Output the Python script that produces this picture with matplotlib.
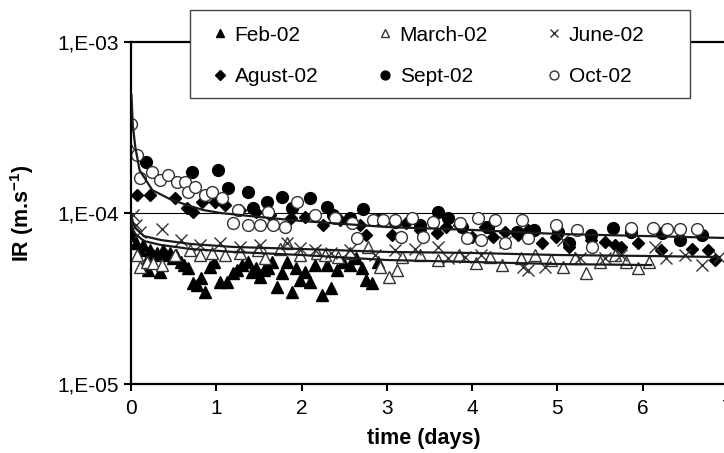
import numpy as np
import matplotlib
matplotlib.use('Agg')
import matplotlib.pyplot as plt
from matplotlib.patches import Rectangle
from matplotlib.ticker import FixedLocator, NullLocator

plt.rcParams['font.family'] = ['Liberation Sans', 'DejaVu Sans']
plt.rcParams['mathtext.default'] = 'regular'

# values, IR in units of 1e-5 m/s
feb_t = [0.01, 0.06, 0.11, 0.14, 0.18, 0.20, 0.22, 0.26, 0.31, 0.34, 0.38, 0.41, 0.46, 0.49,
         0.53, 0.58, 0.62, 0.67, 0.73, 0.77, 0.82, 0.87, 0.93, 0.97, 1.04, 1.13, 1.19, 1.24,
         1.30, 1.37, 1.42, 1.47, 1.51, 1.56, 1.61, 1.65, 1.71, 1.77, 1.83, 1.89, 1.94, 1.98,
         2.04, 2.10, 2.16, 2.24, 2.30, 2.34, 2.42, 2.49, 2.57, 2.64, 2.71, 2.76, 2.83, 2.90]
feb_ir = [7.43, 6.68, 6.08, 6.50, 5.17, 4.64, 6.08, 5.68, 5.84, 4.52, 6.08, 5.68, 5.84, 5.46,
          5.68, 5.17, 4.96, 4.77, 3.90, 3.79, 4.17, 3.45, 4.83, 5.17, 3.95, 3.95, 4.46, 4.64,
          4.96, 5.17, 4.52, 4.77, 4.22, 4.64, 4.77, 5.17, 3.69, 4.46, 5.17, 3.45, 4.77, 4.06,
          4.52, 3.95, 4.96, 3.31, 4.96, 3.64, 4.64, 5.17, 4.96, 5.46, 4.77, 4.06, 3.90, 5.17]

mar_t = [0.0, 0.07, 0.11, 0.19, 0.26, 0.36, 0.52, 0.69, 0.81, 0.95, 1.10, 1.28, 1.49, 1.57,
         1.75, 1.83, 1.98, 2.18, 2.28, 2.43, 2.57, 2.78, 2.92, 3.02, 3.12, 3.18, 3.39, 3.60,
         3.84, 4.04, 4.21, 4.35, 4.57, 4.74, 4.92, 5.07, 5.21, 5.33, 5.50, 5.68, 5.80, 5.95, 6.07]
mar_ir = [23.4, 5.68, 4.83, 5.17, 5.10, 4.96, 5.68, 6.08, 5.68, 5.84, 5.68, 5.84, 6.08, 5.46,
          6.20, 6.68, 5.68, 5.84, 5.68, 5.53, 5.84, 6.33, 4.83, 4.22, 4.64, 5.53, 5.68, 5.31,
          5.68, 5.10, 5.53, 4.96, 5.46, 5.68, 5.31, 4.83, 5.46, 4.46, 5.17, 5.68, 5.17, 4.77, 5.17]

jun_t = [0.02, 0.06, 0.11, 0.36, 0.58, 0.81, 1.04, 1.28, 1.51, 1.83, 1.98, 2.16, 2.34, 2.57,
         2.86, 3.10, 3.33, 3.60, 3.72, 3.92, 4.10, 4.39, 4.60, 4.66, 4.86, 5.06, 5.27, 5.56,
         5.74, 6.15, 6.27, 6.50, 6.70, 6.89]
jun_ir = [9.73, 8.51, 7.74, 8.05, 6.95, 6.50, 6.68, 6.33, 6.50, 6.68, 6.25, 6.08, 5.84, 6.08,
          5.68, 6.08, 6.20, 6.33, 5.46, 5.53, 5.68, 6.77, 4.83, 4.64, 4.83, 6.95, 5.46, 5.46,
          5.68, 6.33, 5.46, 5.68, 4.96, 5.53]

ago_t = [0.07, 0.22, 0.52, 0.66, 0.73, 0.83, 0.99, 1.10, 1.28, 1.46, 1.63, 1.87, 2.04, 2.25,
         2.45, 2.69, 2.75, 3.06, 3.22, 3.39, 3.59, 3.69, 3.84, 4.00, 4.15, 4.25, 4.39, 4.54,
         4.66, 4.82, 4.98, 5.13, 5.39, 5.56, 5.68, 5.74, 5.95, 6.21, 6.58, 6.77, 6.85]
ago_ir = [12.7, 12.7, 12.2, 10.7, 10.2, 11.6, 11.6, 11.1, 10.4, 10.2, 9.73, 9.35, 9.46, 8.51,
          9.10, 8.51, 7.43, 7.43, 8.74, 7.96, 7.63, 8.28, 8.51, 7.24, 8.28, 7.24, 7.74, 7.43,
          7.96, 6.68, 7.24, 6.33, 6.95, 6.77, 6.50, 6.33, 6.68, 6.08, 6.20, 6.08, 5.31]

sep_t = [0.18, 0.72, 1.02, 1.14, 1.37, 1.43, 1.60, 1.77, 1.89, 2.10, 2.30, 2.37, 2.57, 2.72,
         2.90, 3.10, 3.39, 3.60, 3.72, 3.88, 4.19, 4.53, 4.72, 5.01, 5.13, 5.39, 5.65, 5.86,
         6.23, 6.44, 6.70]
sep_ir = [19.9, 17.4, 17.8, 14.0, 13.3, 10.7, 11.6, 12.4, 10.7, 12.2, 10.9, 9.73, 9.35, 10.6,
          9.10, 8.85, 8.51, 10.1, 9.35, 8.28, 8.28, 7.74, 7.96, 7.74, 6.68, 7.43, 8.17, 7.74,
          7.63, 6.95, 7.43]

oct_t = [0.0, 0.07, 0.11, 0.25, 0.34, 0.43, 0.54, 0.63, 0.67, 0.75, 0.87, 0.95, 1.07, 1.19,
         1.26, 1.37, 1.51, 1.61, 1.67, 1.81, 1.95, 2.16, 2.39, 2.59, 2.65, 2.84, 2.95, 3.10,
         3.16, 3.30, 3.42, 3.54, 3.86, 3.94, 4.07, 4.10, 4.27, 4.39, 4.59, 4.66, 4.98, 5.23,
         5.41, 5.86, 6.12, 6.28, 6.44, 6.64]
oct_ir = [33.2, 21.8, 16.0, 17.3, 15.6, 16.7, 15.2, 15.2, 13.3, 14.2, 12.7, 13.3, 12.2, 8.74,
          10.4, 8.51, 8.51, 10.1, 8.51, 8.28, 11.6, 9.73, 9.35, 8.74, 7.14, 9.10, 9.10, 9.10,
          7.24, 9.35, 7.24, 8.85, 8.74, 7.14, 9.35, 6.95, 9.10, 6.68, 9.10, 7.14, 8.51, 7.96,
          6.33, 8.17, 8.17, 8.05, 8.05, 8.05]

# fitted curves
fit_up_t = [0.005, 0.02, 0.05, 0.1, 0.25, 0.45, 0.66, 0.85, 1.05, 1.5, 2.0, 3.0, 4.0, 5.0, 6.0, 7.0]
fit_up_ir = [49.0, 32.7, 24.3, 17.8, 13.6, 12.1, 11.1, 10.4, 10.0, 9.48, 8.98, 8.28, 7.96, 7.54, 7.34, 7.14]
fit_l1_t = [0.005, 0.02, 0.05, 0.15, 0.35, 0.7, 1.2, 2.0, 3.0, 4.0, 5.0, 6.0, 6.9]
fit_l1_ir = [9.73, 8.87, 8.17, 7.33, 6.95, 6.59, 6.33, 6.16, 5.92, 5.84, 5.68, 5.61, 5.53]
fit_l2_t = [0.005, 0.02, 0.05, 0.15, 0.35, 0.7, 1.2, 2.0, 3.0, 4.0, 5.0, 6.1]
fit_l2_ir = [8.87, 8.06, 7.54, 6.86, 6.50, 6.16, 5.92, 5.68, 5.31, 5.17, 5.03, 4.96]

sc = 1e-5
fs = 15
fig = plt.figure(figsize=(7.24, 4.53), dpi=100)
ax = fig.add_axes([0.181, 0.1523, 0.8245, 0.755])

ax.axhline(1e-4, color='k', lw=0.8, zorder=1)

edge = '#333333'
h_feb, = ax.plot(feb_t, np.array(feb_ir) * sc, '^', ms=8.5, color='k', ls='none', label='Feb-02')
h_ago, = ax.plot(ago_t, np.array(ago_ir) * sc, 'D', ms=6.5, color='k', ls='none', label='Agust-02')
h_mar, = ax.plot(mar_t, np.array(mar_ir) * sc, '^', ms=8.5, mfc='white', mec=edge, mew=1,
                 ls='none', label='March-02')
h_sep, = ax.plot(sep_t, np.array(sep_ir) * sc, 'o', ms=8.5, color='k', ls='none', label='Sept-02')
h_jun, = ax.plot(jun_t, np.array(jun_ir) * sc, 'x', ms=8, color=edge, mew=1, ls='none',
                 label='June-02')
h_oct, = ax.plot(oct_t, np.array(oct_ir) * sc, 'o', ms=8.5, mfc='white', mec=edge, mew=1,
                 ls='none', label='Oct-02')

for ft, fv in [(fit_up_t, fit_up_ir), (fit_l1_t, fit_l1_ir), (fit_l2_t, fit_l2_ir)]:
    ax.plot(ft, np.array(fv) * sc, color='#1a1a1a', lw=1.6, zorder=5)

ax.set_yscale('log')
ax.set_ylim(1e-5, 1e-3)
ax.set_xlim(0, 7)
ax.yaxis.set_major_locator(FixedLocator([1e-5, 1e-4, 1e-3]))
ax.yaxis.set_minor_locator(NullLocator())
ax.set_yticklabels(['1,E-05', '1,E-04', '1,E-03'])
ax.set_xticks(range(8))

for s in ['left', 'bottom', 'top', 'right']:
    ax.spines[s].set_linewidth(1.6)
ax.tick_params(axis='both', direction='out', length=5, width=1.5, labelsize=fs, colors='k')
ax.tick_params(axis='y', pad=4)
ax.tick_params(axis='x', pad=6)

ax.set_xlabel('time (days)', fontsize=15.5, fontweight='bold')
ax.set_ylabel(r'IR (m.s$^{-1}$)', fontsize=15.5, fontweight='bold')
ax.xaxis.set_label_coords(0.49, -0.128)
ax.yaxis.set_label_coords(-0.160, 0.5)

# legend box, partly above the plot frame
box = Rectangle((0.0988, 0.836), 0.8375, 0.2573, transform=ax.transAxes, clip_on=False,
                facecolor='white', edgecolor='#444444', lw=1.0, zorder=9)
ax.add_patch(box)
leg = ax.legend(handles=[h_feb, h_ago, h_mar, h_sep, h_jun, h_oct], ncol=3,
                loc='upper left', bbox_to_anchor=(0.137, 1.048), frameon=False,
                fontsize=fs, markerscale=0.75, handlelength=0.7, handletextpad=0.35,
                labelspacing=1.1, columnspacing=2.85, borderpad=0, borderaxespad=0)
leg.set_zorder(10)

plt.savefig('out.png', dpi=100)
